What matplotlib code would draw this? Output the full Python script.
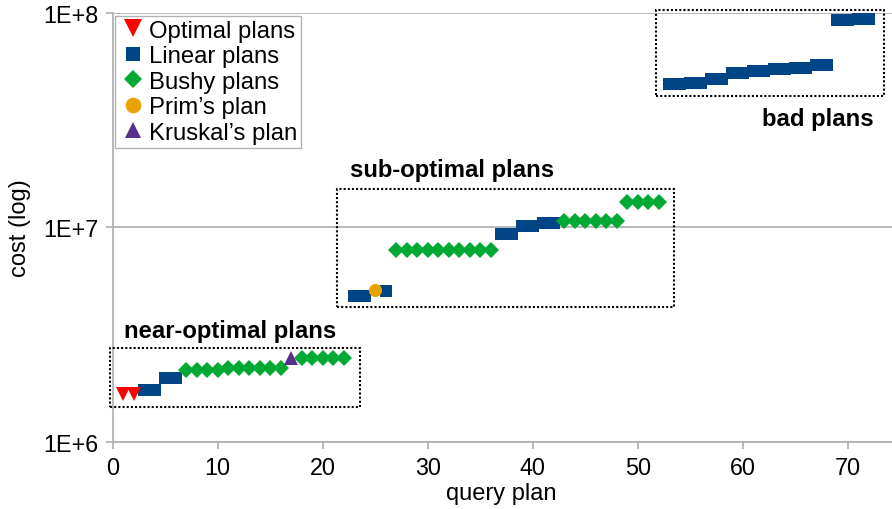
import matplotlib
matplotlib.use("Agg")
import matplotlib.pyplot as plt
from matplotlib.patches import Rectangle

plt.rcParams['font.family'] = ['Liberation Sans', 'DejaVu Sans']

# ---- data ----
optimal_x = [1, 2]
optimal_y = [1.667e6, 1.667e6]

linear_x = [3, 4, 5, 6, 23, 24, 26, 37, 38, 39, 40, 41, 42,
            53, 54, 55, 56, 57, 58, 59, 60, 61, 62, 63, 64, 65, 66, 67, 68, 69, 70, 71, 72]
linear_y = [1.738e6, 1.738e6, 1.977e6, 1.977e6, 4.76e6, 4.76e6, 5.06e6,
            9.35e6, 9.35e6, 1.011e7, 1.011e7, 1.05e7, 1.05e7,
            4.66e7, 4.66e7, 4.70e7, 4.70e7, 4.92e7, 4.92e7, 5.24e7, 5.24e7,
            5.35e7, 5.35e7, 5.48e7, 5.48e7, 5.55e7, 5.55e7, 5.73e7, 5.73e7,
            9.26e7, 9.26e7, 9.375e7, 9.375e7]

bushy_x = [7, 8, 9, 10, 11, 12, 13, 14, 15, 16,
           18, 19, 20, 21, 22,
           27, 28, 29, 30, 31, 32, 33, 34, 35, 36,
           43, 44, 45, 46, 47, 48,
           49, 50, 51, 52]
bushy_y = [2.15e6, 2.15e6, 2.15e6, 2.15e6, 2.2e6, 2.2e6, 2.2e6, 2.2e6, 2.2e6, 2.2e6,
           2.46e6, 2.46e6, 2.46e6, 2.46e6, 2.46e6,
           7.82e6, 7.82e6, 7.82e6, 7.82e6, 7.82e6, 7.82e6, 7.82e6, 7.82e6, 7.82e6, 7.82e6,
           1.065e7, 1.065e7, 1.065e7, 1.065e7, 1.065e7, 1.065e7,
           1.313e7, 1.313e7, 1.313e7, 1.313e7]

prim_x = [25]
prim_y = [5.08e6]
kruskal_x = [17]
kruskal_y = [2.46e6]

# annotation boxes: (x0, x1, y0, y1) and labels
group_labels = ["near-optimal plans", "sub-optimal plans", "bad plans"]
group_boxes = [(-0.26, 23.55, 1.445e6, 2.75e6),
               (21.39, 53.46, 4.26e6, 1.51e7),
               (51.71, 73.46, 4.08e7, 1.036e8)]
group_label_pos = [(1.1, 3.076e6), (22.6, 1.735e7), (61.85, 3.0e7)]

# ---- figure ----
W, H = 892, 510
fig = plt.figure(figsize=(W / 100, H / 100), dpi=100)
x0px, x1px, ytop, ybot = 112.7, 892.0, 14.0, 442.7
ax = fig.add_axes([x0px / W, 1 - ybot / H, (x1px - x0px) / W, (ybot - ytop) / H])

ax.set_yscale('log')
ax.set_ylim(1e6, 1e8)
ax.set_xlim(0, (x1px - x0px) / 10.5)

grey = '#b3b3b3'
ax.set_yticks([1e6, 1e7, 1e8])
ax.set_yticklabels(['1E+6', '1E+7', '1E+8'])
ax.minorticks_off()
ax.set_xticks(range(0, 80, 10))
ax.grid(axis='y', color=grey, linewidth=1.3)
ax.set_axisbelow(True)
for s in ['top', 'right']:
    ax.spines[s].set_visible(False)
for s in ['left', 'bottom']:
    ax.spines[s].set_color(grey)
    ax.spines[s].set_linewidth(1.3)
ax.tick_params(axis='both', colors=grey, labelcolor='black', labelsize=16.8,
               length=5, width=1.3)
ax.tick_params(axis='x', pad=5.5)
ax.tick_params(axis='y', pad=5)

ax.plot(linear_x, linear_y, 's', color='#004586', markersize=8.6, markeredgewidth=0,
        label='Linear plans', zorder=3)
ax.plot(bushy_x, bushy_y, 'D', color='#00a933', markersize=7.9, markeredgewidth=0,
        label='Bushy plans', zorder=3)
ax.plot(optimal_x, optimal_y, 'v', color='#ff0000', markersize=10.5, markeredgewidth=0,
        label='Optimal plans', zorder=4)
ax.plot(prim_x, prim_y, 'o', color='#e8a202', markersize=9.4, markeredgewidth=0,
        label="Prim\u2019s plan", zorder=4)
ax.plot(kruskal_x, kruskal_y, '^', color='#55308d', markersize=10, markeredgewidth=0,
        label="Kruskal\u2019s plan", zorder=4)

for (bx0, bx1, by0, by1), lab, (tx, ty) in zip(group_boxes, group_labels, group_label_pos):
    r = Rectangle((bx0, by0), bx1 - bx0, by1 - by0, fill=False, edgecolor='black',
                  linewidth=1.5, linestyle=(0, (1, 1)), clip_on=False, zorder=5)
    ax.add_patch(r)
    ax.text(tx, ty, lab, fontsize=17.2, fontweight='bold', ha='left', va='baseline')

handles, labels = ax.get_legend_handles_labels()
order = ['Optimal plans', 'Linear plans', 'Bushy plans', "Prim\u2019s plan", "Kruskal\u2019s plan"]
hmap = dict(zip(labels, handles))
axw, axh = x1px - x0px, ybot - ytop
leg = ax.legend([hmap[k] for k in order], order, loc='upper left',
                bbox_to_anchor=((115 - x0px) / axw, (ybot - 16.7) / axh),
                borderaxespad=0, fontsize=17.2, frameon=True, fancybox=False,
                edgecolor=grey, framealpha=1, handlelength=1.2, handletextpad=0.05,
                labelspacing=0.15, borderpad=0.16, markerscale=1.2)
leg.get_frame().set_linewidth(1.0)

ax.set_xlabel('query plan', fontsize=17, va='center')
ax.xaxis.set_label_coords(0.498, (ybot - 494) / axh)
ax.set_ylabel('cost (log)', fontsize=17, va='center')
ax.yaxis.set_label_coords((20 - x0px) / axw, (ybot - 228) / axh)

fig.savefig('out.png', dpi=100)
